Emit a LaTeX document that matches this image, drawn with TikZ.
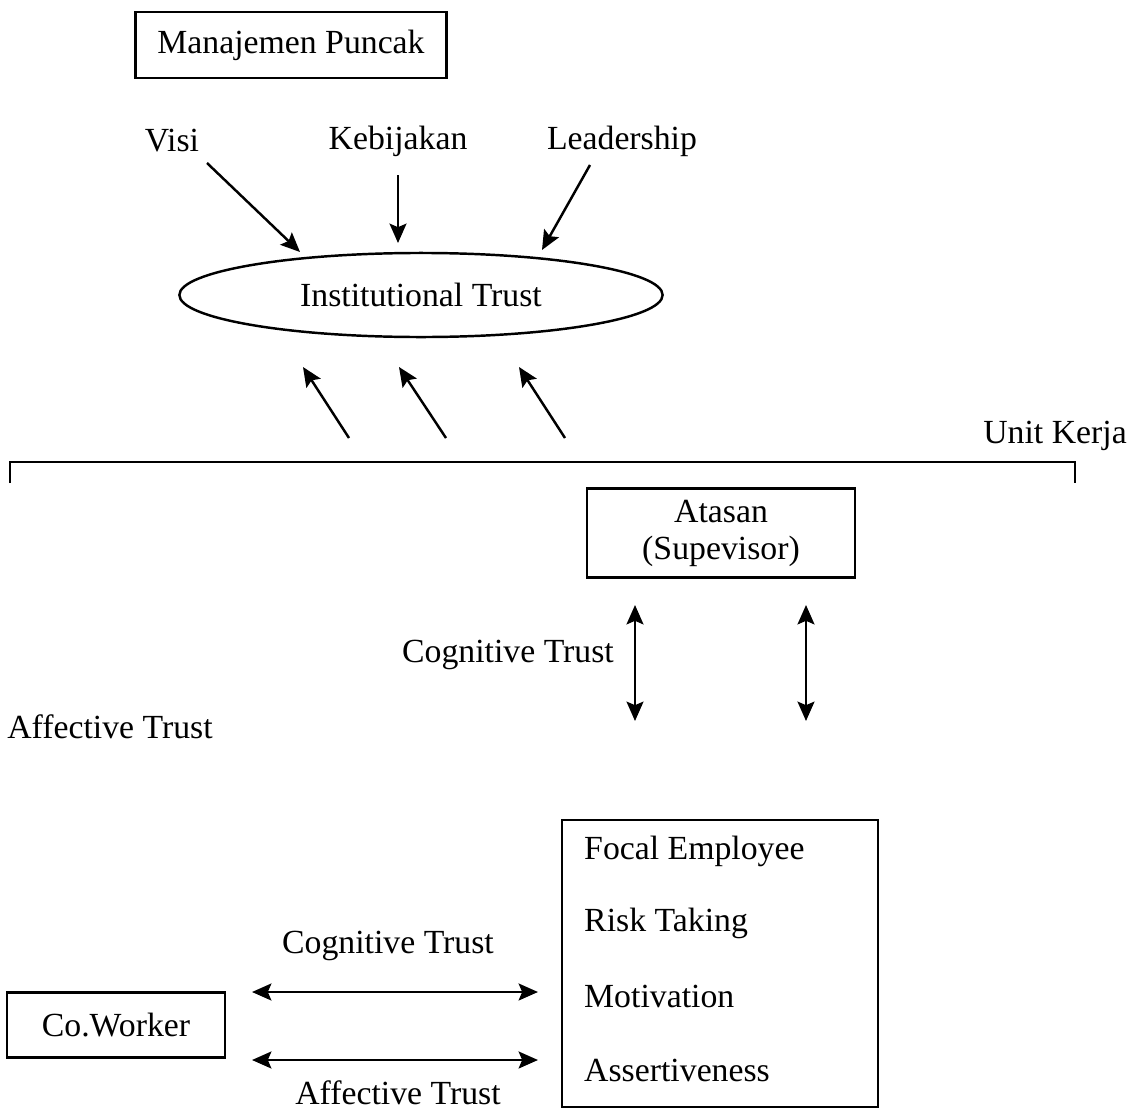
\documentclass[tikz,border=0pt]{standalone}
\usepackage{fontspec}
\setmainfont{Liberation Serif}
\usetikzlibrary{shapes.geometric,arrows.meta}
\tikzset{
	box/.style={draw, inner sep=0pt},
	lbl/.style={inner sep=0pt}
}
\begin{document}
\begin{tikzpicture}[>={Stealth[length=5.5pt,width=4.8pt,inset=1pt]}, x=0.01cm, y=-0.01cm, line width=0.7pt, font=\fontsize{9.6}{13}\selectfont]
	\useasboundingbox (0,0) rectangle (1127,1109);
	% top level
	\node[box, minimum width=3.11cm, minimum height=0.66cm] (puncak) at (291,45) {Manajemen Puncak};
	\node[lbl] (visi) at (172,141) {Visi};
	\node[lbl] (kebijakan) at (398,141) {Kebijakan};
	\node[lbl] (leadership) at (622,141) {Leadership};
	\node[box, ellipse, minimum width=4.83cm, minimum height=0.84cm] (inst) at (421,295) {Institutional Trust};
	\coordinate (V1) at (207,163);
	\coordinate (V2) at (300,252);
	\coordinate (K1) at (398,175);
	\coordinate (K2) at (398,243);
	\coordinate (L1) at (590,165);
	\coordinate (L2) at (542,250);
	\draw[->] (V1) -- (V2);
	\draw[->] (K1) -- (K2);
	\draw[->] (L1) -- (L2);
	% arrows from unit kerja
	\foreach \a/\b in {349/303, 446/399, 565/519}
		\draw[->] (\a,438) -- (\b,367);
	% unit kerja bracket
	\node[lbl] (unit) at (1055,436) {Unit Kerja};
	\draw (10,483) -- (10,462) -- (1075,462) -- (1075,483);
	\node[box, minimum width=2.68cm, minimum height=0.89cm, align=center, font=\fontsize{9.6}{10.5}\selectfont] (atasan) at (721,533) {Atasan\\(Supevisor)};
	\node[lbl] (cog1) at (508,655) {Cognitive Trust};
	\node[lbl] (aff1) at (110,727) {Affective Trust};
	\coordinate (A1) at (635,605);
	\coordinate (A2) at (635,721);
	\coordinate (B1) at (806,605);
	\coordinate (B2) at (806,721);
	\draw[<->] (A1) -- (A2);
	\draw[<->] (B1) -- (B2);
	% focal employee
	\node[box, minimum width=3.16cm, minimum height=2.87cm] (focal) at (720,963.5) {};
	\node[lbl, anchor=west] (fe) at (583,851) {Focal Employee};
	\node[lbl, anchor=west] (risk) at (583,923) {Risk Taking};
	\node[lbl, anchor=west] (moti) at (583,996) {Motivation};
	\node[lbl, anchor=west] (asser) at (583,1070) {Assertiveness};
	% co worker
	\node[box, minimum width=2.18cm, minimum height=0.65cm] (cowork) at (116,1025) {Co.Worker};
	\node[lbl] (cog2) at (388,946) {Cognitive Trust};
	\node[lbl] (aff2) at (398,1093) {Affective Trust};
	\coordinate (C1) at (252,992);
	\coordinate (C2) at (538,992);
	\coordinate (D1) at (252,1060);
	\coordinate (D2) at (538,1060);
	\draw[<->] (C1) -- (C2);
	\draw[<->] (D1) -- (D2);
\end{tikzpicture}
\end{document}
